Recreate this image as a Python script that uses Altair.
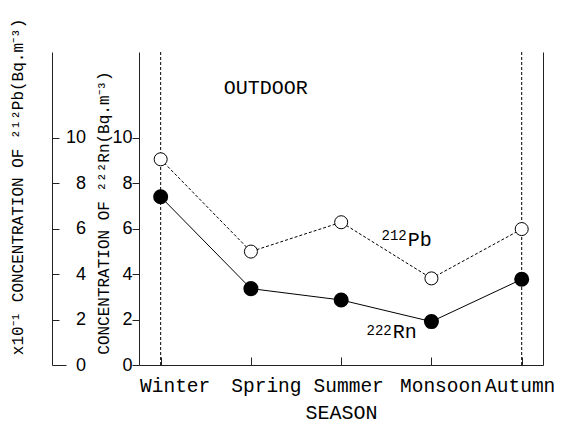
import altair as alt
import pandas as pd

# ---- data ----
seasons = ["Winter", "Spring", "Summer", "Monsoon", "Autumn"]
rn_222 = [7.40, 3.36, 2.86, 1.91, 3.77]          # Bq.m-3
pb_212 = [9.05, 4.99, 6.28, 3.81, 5.98]          # x10^-1 Bq.m-3
y_ticks = [0, 2, 4, 6, 8, 10]
boundary_seasons = ["Winter", "Autumn"]

idx = list(range(len(seasons)))
df = pd.DataFrame({"idx": idx, "season": seasons, "rn": rn_222, "pb": pb_212})
rules_df = pd.DataFrame({"idx": [seasons.index(s) for s in boundary_seasons]})

# annotation texts (positions in data units)
ann_text = ["OUTDOOR", "212", "Pb", "222", "Rn"]
ann_x = [1.163, 2.726, 2.737, 2.56, 2.57]
ann_y = [11.94, 5.48, 5.25, 1.30, 1.17]
ann = pd.DataFrame({"text": ann_text, "x": ann_x, "y": ann_y})

label_shift = [14, 15, 7, 9, -2]

MONO = "Liberation Mono"
SANS = "Liberation Sans"
INK = "#222222"

xs = alt.Scale(domain=[-0.240, 4.236], nice=False, zero=False)
ys = alt.Scale(domain=[0, 13.77], nice=False, zero=True)

bottom_axis = alt.Axis(
    orient="bottom", values=idx, labelExpr=f"{seasons}[datum.value]",
    ticks=False, tickSize=0, labelFont=MONO, labelFontSize=19.5, labelPadding=11,
    labelOffset={"expr": f"{label_shift}[datum.value]"},
    labelFlush=False, labelOverlap=False, grid=False,
    title="SEASON", titleFont=MONO, titleFontSize=20, titleFontWeight="normal",
    titleY=53.5, titleBaseline="alphabetic", domainColor=INK,
)
top_tick_axis = alt.Axis(
    orient="top", offset=-313, values=idx, labels=False, domain=False,
    ticks=True, tickSize=8, tickColor=INK, grid=False, title=None,
)
inner_axis = alt.Axis(
    orient="left", values=y_ticks, format="d", tickSize=7, labelPadding=0,
    labelFont=SANS, labelFontSize=18, grid=False, domainColor=INK, tickColor=INK,
    title="CONCENTRATION OF ²²²Rn(Bq.m⁻³)", titleFont=MONO, titleFontSize=16,
    titleFontWeight="normal", titleAngle=270, titleAlign="center",
    titleBaseline="middle", titleX=-36, titleY=160.5,
)
outer_axis = alt.Axis(
    orient="right", offset=-491, values=y_ticks, format="d",
    tickSize={"condition": {"test": "datum.value === 0", "value": 14}, "value": 7},
    labelAlign="right",
    labelPadding={"condition": {"test": "datum.value === 0", "value": 19.5}, "value": 26.5},
    labelFont=SANS, labelFontSize=18, grid=False, domainColor=INK, tickColor=INK,
    title="x10⁻¹ CONCENTRATION OF ²¹²Pb(Bq.m⁻³)", titleFont=MONO, titleFontSize=16,
    titleFontWeight="normal", titleAngle=270, titleAlign="center",
    titleBaseline="middle", titleX=-35, titleY=134.5,
)
frame_axis = alt.Axis(
    orient="right", labels=False, ticks=False, domain=True, grid=False,
    title=None, domainColor=INK,
)

base = alt.Chart(df)

vrules = alt.Chart(rules_df).mark_rule(color="black", strokeWidth=1, strokeDash=[3, 2]).encode(
    x=alt.X("idx:Q", scale=xs, axis=None)
)

rn_line = base.mark_line(color="black", strokeWidth=1).encode(
    x=alt.X("idx:Q", scale=xs, axis=bottom_axis),
    y=alt.Y("rn:Q", scale=ys, axis=inner_axis),
)
pb_line = base.mark_line(color="black", strokeWidth=1, strokeDash=[3, 2]).encode(
    x=alt.X("idx:Q", scale=xs, axis=top_tick_axis),
    y=alt.Y("pb:Q", scale=ys, axis=outer_axis),
)
rn_pts = base.mark_point(shape="circle", filled=True, fill="black", stroke="black",
                         size=170, opacity=1).encode(
    x=alt.X("idx:Q", scale=xs, axis=None),
    y=alt.Y("rn:Q", scale=ys, axis=None),
)
pb_pts = base.mark_point(shape="circle", filled=True, fill="white", stroke="black",
                         strokeWidth=1, size=170, opacity=1).encode(
    x=alt.X("idx:Q", scale=xs, axis=None),
    y=alt.Y("pb:Q", scale=ys, axis=frame_axis),
)


def txt(i, size, align):
    return alt.Chart(ann.iloc[[i]]).mark_text(
        font=MONO, fontSize=size, align=align, baseline="alphabetic", color="black"
    ).encode(
        x=alt.X("x:Q", scale=xs, axis=None),
        y=alt.Y("y:Q", scale=ys, axis=None),
        text="text:N",
    )


texts = [txt(0, 20, "center"), txt(1, 14, "right"), txt(2, 20, "left"),
         txt(3, 14, "right"), txt(4, 20, "left")]

chart = alt.layer(vrules, rn_line, pb_line, rn_pts, pb_pts, *texts).resolve_axis(
    x="independent", y="independent"
).properties(
    width=404, height=313,
    padding={"left": 131, "top": 44, "right": 12, "bottom": 59},
    autosize=alt.AutoSizeParams(type="none"),
    background="white",
).configure_view(stroke=None).configure_axis(labelColor="black", titleColor="black")

chart.save("out.html", embed_options={"renderer": "svg", "actions": False})
